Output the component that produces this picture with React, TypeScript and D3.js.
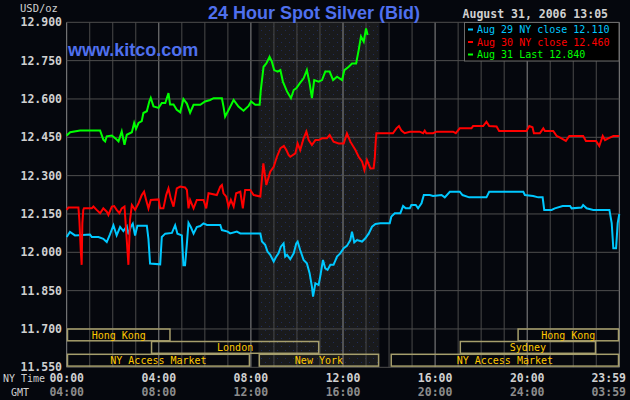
import * as d3 from 'd3';
import React, { useEffect, useRef } from 'react';

// readings, hours since 00:00 NY time
const aug29Hours = [0, 0.14, 0.36, 1.01, 1.09, 1.38, 1.59, 1.74, 1.88, 2.03, 2.17, 2.32, 2.46, 2.61, 2.68, 2.78, 2.87, 2.97, 3.07, 3.48, 3.55, 3.62, 4.06, 4.13, 4.28, 4.57, 4.71, 4.81, 5.0, 5.07, 5.14, 5.22, 5.29, 5.39, 5.51, 5.65, 5.8, 5.94, 6.09, 6.67, 6.74, 6.99, 7.1, 7.39, 7.54, 8.41, 8.48, 8.62, 8.72, 8.84, 8.99, 9.1, 9.2, 9.3, 9.42, 9.49, 9.57, 9.71, 9.86, 9.97, 10.03, 10.14, 10.29, 10.43, 10.55, 10.65, 10.7, 10.8, 10.94, 11.01, 11.13, 11.23, 11.33, 11.45, 11.59, 11.74, 11.88, 12.03, 12.17, 12.32, 12.39, 12.49, 12.61, 12.83, 12.97, 13.12, 13.26, 13.41, 13.62, 14.03, 14.1, 14.25, 14.49, 14.61, 14.72, 14.9, 14.97, 15.16, 15.26, 15.41, 15.51, 15.77, 15.91, 16.28, 16.42, 16.64, 17.07, 17.19, 17.48, 18.23, 18.35, 19.83, 19.9, 20.26, 20.48, 20.67, 20.74, 21.06, 21.2, 21.54, 21.86, 21.93, 22.36, 22.43, 22.58, 22.87, 23.57, 23.67, 23.74, 23.86, 23.93, 24];
const aug29Values = [12.06, 12.08, 12.066, 12.07, 12.06, 12.06, 12.053, 12.04, 12.07, 12.106, 12.066, 12.099, 12.083, 12.102, 12.07, 12.099, 12.112, 12.066, 12.104, 12.104, 12.053, 11.956, 11.953, 12.06, 12.073, 12.076, 12.106, 12.073, 12.066, 11.949, 11.949, 12.034, 12.115, 12.099, 12.073, 12.099, 12.103, 12.113, 12.107, 12.107, 12.087, 12.081, 12.074, 12.081, 12.074, 12.074, 12.042, 12.029, 12.003, 11.99, 11.964, 11.983, 11.996, 12.022, 12.035, 11.983, 11.99, 11.973, 11.996, 12.035, 12.042, 12.009, 11.97, 11.957, 11.918, 11.866, 11.827, 11.879, 11.872, 11.905, 11.97, 11.937, 11.931, 11.951, 11.951, 11.983, 11.996, 12.016, 12.025, 12.048, 12.081, 12.039, 12.048, 12.042, 12.055, 12.074, 12.1, 12.111, 12.114, 12.114, 12.14, 12.153, 12.153, 12.181, 12.172, 12.172, 12.185, 12.185, 12.172, 12.192, 12.224, 12.224, 12.22, 12.224, 12.215, 12.237, 12.237, 12.224, 12.215, 12.215, 12.237, 12.237, 12.224, 12.22, 12.215, 12.215, 12.166, 12.166, 12.172, 12.181, 12.181, 12.172, 12.175, 12.185, 12.172, 12.166, 12.166, 12.114, 12.016, 12.016, 12.114, 12.15];

const aug30Hours = [0, 0.07, 0.51, 0.55, 0.61, 0.65, 0.68, 0.72, 0.75, 1.09, 1.16, 1.3, 1.45, 1.59, 1.74, 1.81, 1.96, 2.06, 2.17, 2.29, 2.39, 2.51, 2.58, 2.68, 2.75, 2.83, 2.97, 3.12, 3.26, 3.36, 3.45, 3.55, 3.65, 3.99, 4.06, 4.2, 4.32, 4.42, 4.52, 4.64, 4.78, 4.93, 5.14, 5.22, 5.29, 5.36, 5.51, 5.65, 5.94, 6.06, 6.16, 6.52, 6.67, 6.74, 6.81, 6.93, 7.03, 7.13, 7.25, 7.36, 7.54, 7.65, 7.75, 7.97, 8.12, 8.41, 8.54, 8.67, 8.84, 8.99, 9.13, 9.28, 9.43, 9.54, 9.64, 9.71, 9.93, 10.03, 10.14, 10.29, 10.41, 10.51, 10.65, 10.8, 10.94, 11.09, 11.3, 11.42, 11.59, 11.81, 12.03, 12.17, 12.32, 12.54, 12.68, 12.83, 12.93, 13.04, 13.19, 13.33, 13.38, 13.42, 13.45, 14.17, 14.32, 14.43, 14.54, 14.68, 14.9, 15.33, 15.48, 15.55, 15.62, 15.91, 16.06, 16.78, 16.9, 17.07, 17.58, 17.65, 18.09, 18.23, 18.35, 18.67, 18.78, 19.97, 20.09, 20.23, 20.29, 20.55, 20.7, 20.77, 21.13, 21.28, 21.49, 21.68, 21.83, 22.43, 22.55, 22.99, 23.13, 23.28, 23.38, 23.52, 23.74, 24];
const aug30Values = [12.166, 12.175, 12.175, 12.127, 12.009, 11.951, 12.114, 12.166, 12.172, 12.172, 12.179, 12.166, 12.153, 12.172, 12.159, 12.146, 12.179, 12.181, 12.166, 12.153, 12.172, 12.179, 12.087, 11.951, 12.127, 12.185, 12.166, 12.192, 12.224, 12.237, 12.205, 12.172, 12.205, 12.207, 12.172, 12.172, 12.224, 12.25, 12.211, 12.179, 12.25, 12.257, 12.254, 12.244, 12.172, 12.205, 12.172, 12.205, 12.205, 12.172, 12.231, 12.224, 12.257, 12.263, 12.231, 12.218, 12.179, 12.205, 12.179, 12.231, 12.237, 12.172, 12.244, 12.244, 12.224, 12.218, 12.348, 12.263, 12.315, 12.335, 12.374, 12.407, 12.416, 12.4, 12.38, 12.374, 12.387, 12.426, 12.4, 12.446, 12.472, 12.439, 12.42, 12.439, 12.439, 12.446, 12.446, 12.459, 12.433, 12.426, 12.426, 12.465, 12.433, 12.4, 12.374, 12.355, 12.322, 12.361, 12.328, 12.329, 12.368, 12.433, 12.466, 12.466, 12.485, 12.494, 12.476, 12.466, 12.472, 12.472, 12.466, 12.476, 12.466, 12.466, 12.472, 12.472, 12.466, 12.485, 12.485, 12.494, 12.494, 12.511, 12.494, 12.492, 12.475, 12.475, 12.494, 12.489, 12.466, 12.466, 12.485, 12.475, 12.475, 12.455, 12.446, 12.436, 12.455, 12.455, 12.436, 12.436, 12.416, 12.455, 12.439, 12.446, 12.455, 12.455];

const aug31Hours = [0, 0.15, 0.58, 1.45, 1.59, 1.67, 1.74, 1.96, 2.17, 2.25, 2.39, 2.51, 2.61, 2.83, 2.93, 3.01, 3.12, 3.26, 3.33, 3.48, 3.59, 3.65, 3.77, 3.99, 4.13, 4.28, 4.42, 4.49, 4.64, 4.78, 4.93, 5.07, 5.22, 5.36, 5.51, 5.8, 6.01, 6.23, 6.38, 6.74, 6.81, 6.88, 7.03, 7.25, 7.46, 7.68, 7.9, 8.01, 8.19, 8.38, 8.43, 8.55, 8.67, 8.81, 8.91, 9.01, 9.16, 9.28, 9.39, 9.57, 9.74, 9.86, 9.97, 10.12, 10.29, 10.43, 10.55, 10.65, 10.75, 10.94, 11.09, 11.23, 11.42, 11.57, 11.74, 11.96, 12.06, 12.25, 12.39, 12.57, 12.68, 12.78, 12.9, 13.0, 13.07];
const aug31Values = [12.457, 12.47, 12.477, 12.477, 12.441, 12.434, 12.454, 12.457, 12.441, 12.434, 12.473, 12.421, 12.46, 12.47, 12.506, 12.483, 12.506, 12.513, 12.545, 12.552, 12.591, 12.604, 12.571, 12.565, 12.584, 12.584, 12.623, 12.578, 12.578, 12.558, 12.548, 12.6, 12.582, 12.546, 12.577, 12.577, 12.59, 12.596, 12.603, 12.603, 12.57, 12.531, 12.557, 12.596, 12.57, 12.554, 12.573, 12.59, 12.577, 12.577, 12.635, 12.726, 12.739, 12.765, 12.746, 12.713, 12.707, 12.713, 12.668, 12.629, 12.603, 12.635, 12.642, 12.661, 12.681, 12.713, 12.661, 12.603, 12.674, 12.668, 12.674, 12.707, 12.707, 12.674, 12.687, 12.674, 12.713, 12.726, 12.739, 12.739, 12.791, 12.844, 12.824, 12.876, 12.85];

const legendLabels = ['Aug 29 NY close 12.110', 'Aug 30 NY close 12.460', 'Aug 31 Last 12.840'];
const yTickValues = [12.9, 12.75, 12.6, 12.45, 12.3, 12.15, 12.0, 11.85, 11.7, 11.55];
const nyTimeLabels = ['00:00', '04:00', '08:00', '12:00', '16:00', '20:00', '23:59'];
const gmtLabels = ['04:00', '08:00', '12:00', '16:00', '20:00', '24:00', '03:59'];

const sessionNames = ['Hong Kong', 'Hong Kong', 'London', 'Sydney', 'NY Access Market', 'New York', 'NY Access Market'];
const sessionRows = [0, 0, 1, 1, 2, 2, 2];
const sessionStart = [0, 19.57, 3.65, 17.06, 0, 8.33, 14.06];
const sessionEnd = [4.52, 24, 10.98, 23.0, 7.97, 13.58, 24];

const mono = '"DejaVu Sans Mono", monospace';

export default () => {
    const ref = useRef<any>();

    useEffect(() => {
        const svg = d3.select<any, any>(ref.current);
        svg.selectAll('*').remove();

        const left = 66.7, right = 619.3, top = 22.3, bottom = 367.3;
        const x = d3.scaleLinear().domain([0, 24]).range([left, right]);
        const y = d3.scaleLinear().domain([11.55, 12.9]).range([bottom, top]);

        svg.append('rect').attr('width', 630).attr('height', 400).attr('fill', '#05070d');

        const defs = svg.append('defs');
        const pat = defs.append('pattern')
            .attr('id', 'dots')
            .attr('patternUnits', 'userSpaceOnUse')
            .attr('width', 8).attr('height', 8);
        pat.append('rect').attr('width', 8).attr('height', 8).attr('fill', '#191a1c');
        pat.append('rect').attr('x', 1).attr('y', 2).attr('width', 1).attr('height', 1).attr('fill', '#1f2b58');
        pat.append('rect').attr('x', 5).attr('y', 6).attr('width', 1).attr('height', 1).attr('fill', '#1f2b58');

        // New York session shading
        svg.append('rect')
            .attr('x', x(8.33)).attr('y', top)
            .attr('width', x(13.58) - x(8.33)).attr('height', bottom - top)
            .attr('fill', 'url(#dots)');

        const grid = svg.append('g');
        d3.range(0, 25).forEach((h) => {
            grid.append('line')
                .attr('x1', x(h)).attr('x2', x(h))
                .attr('y1', top).attr('y2', bottom)
                .attr('stroke', h % 4 === 0 ? '#8a8a8a' : '#4a4a4a')
                .attr('stroke-width', 1);
        });
        yTickValues.forEach((v) => {
            grid.append('line')
                .attr('x1', left).attr('x2', right)
                .attr('y1', y(v)).attr('y2', y(v))
                .attr('stroke', '#4e4e4e')
                .attr('stroke-width', 1);
        });

        // y labels
        svg.append('g').selectAll('text').data(yTickValues).join('text')
            .attr('x', 62)
            .attr('y', (d: any) => y(d) + 4)
            .attr('text-anchor', 'end')
            .attr('fill', '#d0d0d0')
            .attr('font-family', mono)
            .attr('font-weight', 'bold')
            .attr('font-size', '11.5px')
            .text((d: any) => d3.format('.3f')(d));

        svg.append('text').attr('x', 20).attr('y', 12)
            .attr('fill', '#d0d0d0').attr('font-family', mono).attr('font-size', '10.5px')
            .text('USD/oz');

        // sessions
        const rowTop = [329, 341.5, 354.3];
        const rowH = 11.8;
        const sess = svg.append('g');
        sessionNames.forEach((name, i) => {
            const x0 = x(sessionStart[i]), x1 = x(sessionEnd[i]);
            sess.append('rect')
                .attr('x', x0 + 0.8).attr('y', rowTop[sessionRows[i]])
                .attr('width', x1 - x0 - 1.6).attr('height', rowH)
                .attr('fill', 'none')
                .attr('stroke', '#a69e6c')
                .attr('stroke-width', 1.5);
            sess.append('text')
                .attr('x', (x0 + x1) / 2)
                .attr('y', rowTop[sessionRows[i]] + 9.5)
                .attr('text-anchor', 'middle')
                .attr('fill', '#ffc800')
                .attr('font-family', mono)
                .attr('font-size', '10px')
                .text(name);
        });

        // price lines
        const line = d3.line<number>()
            .x((d: any) => x(d[0]))
            .y((d: any) => y(d[1]))
            .curve(d3.curveLinear);
        const series = [
            { h: aug29Hours, v: aug29Values, c: '#00c8ff' },
            { h: aug30Hours, v: aug30Values, c: '#ff0000' },
            { h: aug31Hours, v: aug31Values, c: '#00ff00' },
        ];
        series.forEach((s) => {
            svg.append('path')
                .attr('d', line(s.h.map((h, i) => [h, s.v[i]]) as any))
                .attr('fill', 'none')
                .attr('stroke', s.c)
                .attr('stroke-width', 2)
                .attr('stroke-linejoin', 'miter');
        });

        // x labels
        const xl = svg.append('g');
        nyTimeLabels.forEach((t, i) => {
            const last = i === nyTimeLabels.length - 1;
            const hx = last ? 626 : x(i * 4);
            const anchor = last ? 'end' : 'middle';
            xl.append('text').attr('x', hx).attr('y', 382)
                .attr('text-anchor', anchor).attr('fill', '#d0d0d0')
                .attr('font-family', mono).attr('font-weight', 'bold').attr('font-size', '11.5px')
                .text(t);
            xl.append('text').attr('x', hx).attr('y', 396)
                .attr('text-anchor', anchor).attr('fill', '#8c8c8c')
                .attr('font-family', mono).attr('font-weight', 'bold').attr('font-size', '11.5px')
                .text(gmtLabels[i]);
        });
        xl.append('text').attr('x', 3).attr('y', 382).attr('fill', '#d0d0d0')
            .attr('font-family', mono).attr('font-size', '10px').text('NY Time');
        xl.append('text').attr('x', 11).attr('y', 396).attr('fill', '#d0d0d0')
            .attr('font-family', mono).attr('font-size', '10px').text('GMT');

        // titles
        svg.append('text').attr('x', 314).attr('y', 19)
            .attr('text-anchor', 'middle').attr('fill', '#4f70ee')
            .attr('font-family', '"Liberation Sans", Arial, sans-serif')
            .attr('font-weight', 'bold').attr('font-size', '18px')
            .text('24 Hour Spot Silver (Bid)');
        svg.append('text').attr('x', 68).attr('y', 56)
            .attr('fill', '#4f70ee')
            .attr('font-family', '"Liberation Sans", Arial, sans-serif')
            .attr('font-weight', 'bold').attr('font-size', '18px')
            .text('www.kitco.com');
        svg.append('text').attr('x', 608).attr('y', 18)
            .attr('text-anchor', 'end').attr('fill', '#d0d0d0')
            .attr('font-family', mono).attr('font-weight', 'bold').attr('font-size', '11.5px')
            .text('August 31, 2006 13:05');

        // legend
        const lg = svg.append('g');
        lg.append('rect').attr('x', 464.5).attr('y', 22.5).attr('width', 154.5).attr('height', 38.5)
            .attr('fill', '#000000').attr('stroke', '#6a6a6a').attr('stroke-width', 1);
        legendLabels.forEach((t, i) => {
            lg.append('rect').attr('x', 468).attr('y', 28.5 + i * 12.5).attr('width', 5).attr('height', 2)
                .attr('fill', series[i].c);
            lg.append('text').attr('x', 477).attr('y', 33 + i * 12.5)
                .attr('fill', series[i].c).attr('font-family', mono).attr('font-size', '10px')
                .text(t);
        });
    });

    return (
        <svg ref={ref} width={630} height={400} style={{ position: 'fixed', left: 0, top: 0 }}></svg>
    );
};
